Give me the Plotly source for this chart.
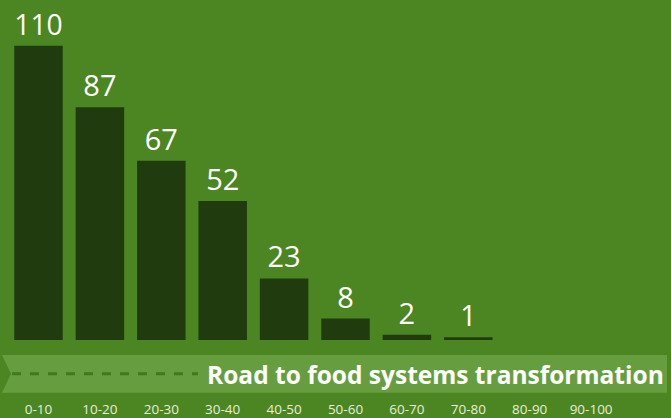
import plotly.graph_objects as go

# Number of items per score band
categories = ["0-10", "10-20", "20-30", "30-40", "40-50",
              "50-60", "60-70", "70-80", "80-90", "90-100"]
counts = [110, 87, 67, 52, 23, 8, 2, 1, None, None]
bar_labels = ["110", "87", "67", "52", "23", "8", "2", "1", "", ""]
banner_text = "Road to food systems transformation"

W, H = 671, 418
BOTTOM = 76
PLOT_H = H - BOTTOM

BG = "#4b8623"
BAR = "#203c0f"
BAND = "rgba(125,178,88,0.55)"
DASH = "#3f7a1e"


def py(px):
    """Convert a pixel row (from the top) to paper y."""
    return (PLOT_H - px) / PLOT_H


def px_x(px):
    return px / W


fig = go.Figure(
    go.Bar(
        x=list(range(len(categories))),
        y=counts,
        width=0.79,
        marker=dict(color=BAR, line=dict(width=0)),
        text=bar_labels,
        textposition="outside",
        cliponaxis=False,
        textfont=dict(family="Open Sans", size=29, color="white", weight=500),
        hoverinfo="skip",
    )
)

fig.update_layout(
    width=W,
    height=H,
    margin=dict(l=0, r=0, t=0, b=BOTTOM),
    paper_bgcolor=BG,
    plot_bgcolor=BG,
    showlegend=False,
    bargap=0.2,
    xaxis=dict(
        range=[-0.627, 10.301],
        tickmode="array",
        tickvals=list(range(len(categories))),
        ticktext=categories,
        tickfont=dict(family="Open Sans", size=13.5, color="#e6efd8", weight=500),
        ticklabelstandoff=59,
        showgrid=False,
        zeroline=False,
        showline=False,
        ticks="",
        fixedrange=True,
    ),
    yaxis=dict(
        range=[0, PLOT_H / 2.69],
        visible=False,
        fixedrange=True,
    ),
)

# light banner strip with a notched tail on the left
y_top, y_bot, y_mid = py(357), py(395), py(376)
fig.add_shape(
    type="path",
    xref="paper", yref="paper",
    path=(f"M {px_x(2)} {y_top} L {px_x(667)} {y_top} L {px_x(667)} {y_bot} "
          f"L {px_x(2)} {y_bot} L {px_x(11)} {y_mid} Z"),
    fillcolor=BAND,
    line=dict(width=0),
    layer="below",
)

# dashed road line leading into the banner text
fig.add_shape(
    type="line",
    xref="paper", yref="paper",
    x0=px_x(12), x1=px_x(198), y0=py(376), y1=py(376),
    line=dict(color=DASH, width=3, dash="dash"),
)

fig.add_annotation(
    text=f"<b>{banner_text}</b>",
    xref="paper", yref="paper",
    x=px_x(666), y=py(377),
    xanchor="right", yanchor="middle",
    showarrow=False,
    font=dict(family="Open Sans", size=24.5, color="white"),
)

fig.write_html("out.html")
